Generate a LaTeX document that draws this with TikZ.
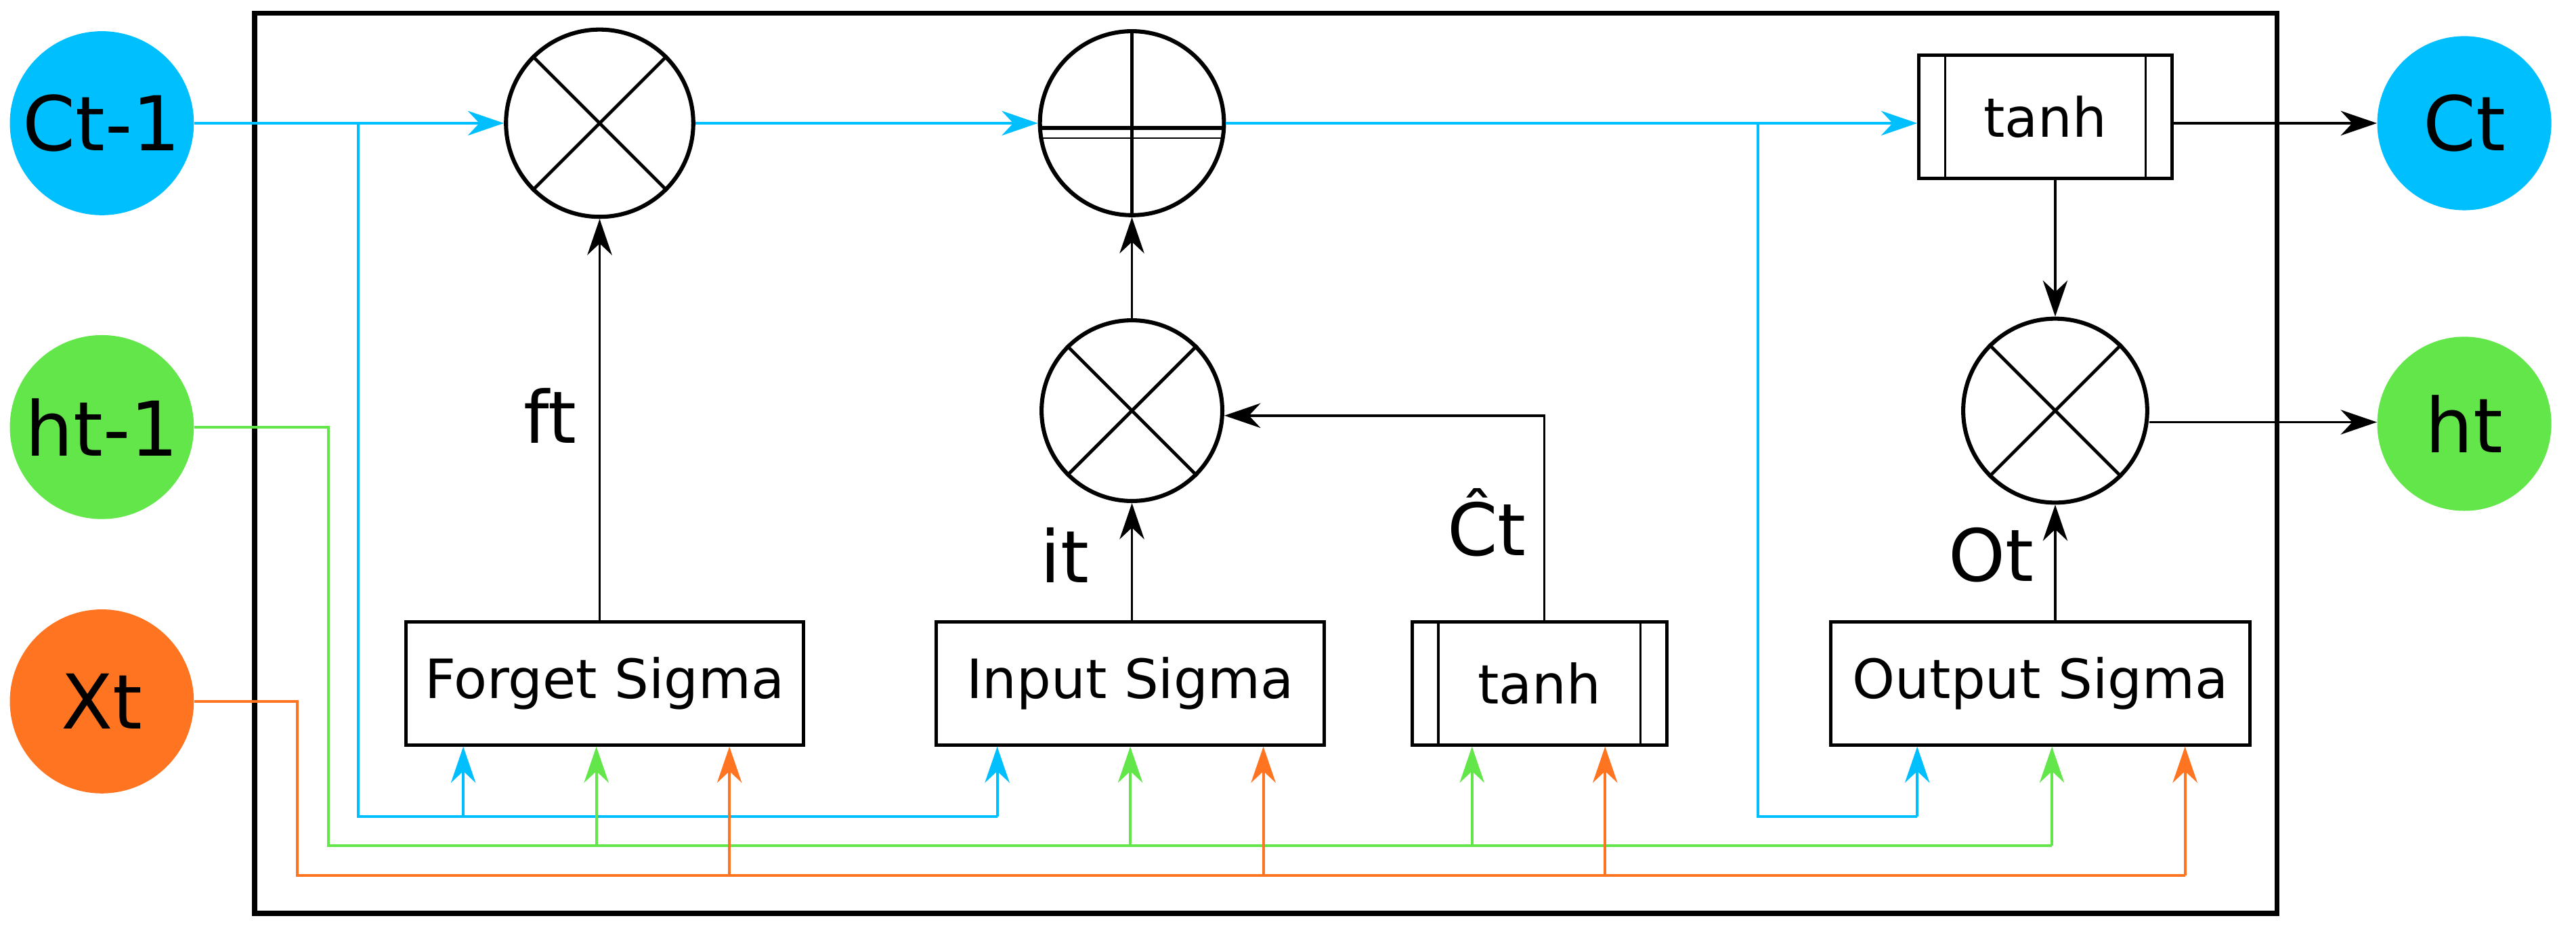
\documentclass[tikz,border=0pt]{standalone}
\usepackage{fontspec}
\setmainfont{DejaVu Sans}
\usetikzlibrary{arrows.meta,calc}
\definecolor{cy}{RGB}{0,191,255}
\definecolor{gr}{RGB}{99,230,74}
\definecolor{or}{RGB}{255,116,32}
\begin{document}
\begin{tikzpicture}[x=1pt,y=-1pt,
 inp/.style={circle,minimum size=112pt,inner sep=0pt,font=\fontsize{46}{50}\selectfont},
 op/.style={circle,draw,line width=2.5pt,minimum size=114pt,inner sep=0pt},
 box/.style={rectangle,draw,line width=2pt,inner sep=0pt,font=\fontsize{33}{36}\selectfont},
 lab/.style={font=\fontsize{44}{48}\selectfont},
 con/.style={line width=1.6pt,-{Stealth[length=22pt,width=15pt,inset=7pt]}},
 ln/.style={line width=1.6pt}]
\useasboundingbox (0,0) rectangle (1568,568);
\draw[line width=3pt] (155,8) rectangle (1386,556);
% inputs/outputs
\node[inp,fill=cy] (c0) at (62,75) {Ct-1};
\node[inp,fill=gr] (h0) at (62,260) {ht-1};
\node[inp,fill=or] (x0) at (62,427) {Xt};
\node[inp,fill=cy,minimum size=106pt] (c1) at (1500,75) {Ct};
\node[inp,fill=gr,minimum size=106pt] (h1) at (1500,258) {ht};
% operators
\node[op] (m1) at (365,75) {};
\node[op,minimum size=112pt] (p1) at (689,75) {};
\node[op,minimum size=110pt] (m2) at (689,250) {};
\node[op,minimum size=112pt] (m3) at (1251,250) {};
\foreach \n in {m1,m2,m3}{\draw[line width=2pt] (\n.45)--(\n.225) (\n.135)--(\n.-45);}
\draw[line width=2pt] (p1.north)--(p1.south);
\draw[line width=2.5pt] ($(p1.west)+(0,3)$)--($(p1.east)+(0,3)$);
\draw[line width=0.6pt] ($(p1.west)+(3,9)$)--($(p1.east)+(-1,9)$);
% boxes
\node[box,minimum width=154pt,minimum height=75pt] (t1) at (1245,71) {tanh};
\node[box,minimum width=242pt,minimum height=75pt] (fs) at (368,416) {Forget Sigma};
\node[box,minimum width=236pt,minimum height=75pt] (is) at (688,416) {Input Sigma};
\node[box,minimum width=155pt,minimum height=75pt] (t2) at (937,416) {tanh};
\node[box,minimum width=255pt,minimum height=75pt] (os) at (1242,416) {Output Sigma};
\foreach \n in {t1,t2}{
 \draw[line width=1.5pt] ($(\n.north west)+(17,0)$)--($(\n.south west)+(17,0)$);
 \draw[line width=1.5pt] ($(\n.north east)+(-17,0)$)--($(\n.south east)+(-17,0)$);}
% labels
\node[lab] at (335,253) {ft};
\node[lab] at (648,338) {it};
\node[lab] at (905,318) {\^{C}t};
\node[lab] at (1212,338) {Ot};
% cyan
\coordinate (cb1) at (218,75); \coordinate (cb2) at (1070,75);
\draw[con,cy] (c0) -- (m1);
\draw[con,cy] (m1) -- (p1);
\draw[con,cy] (p1) -- (t1.west|-p1);
\draw[ln,cy] (cb1) |- (607,497);
\draw[con,cy] (282,497) -- (fs.south-|282,0);
\draw[con,cy] (607,497) -- (is.south-|607,0);
\draw[ln,cy] (cb2) |- (1167,497);
\draw[con,cy] (1167,497) -- (os.south-|1167,0);
% green
\draw[ln,gr] (h0.east) -- (200,260) |- (1249,515);
\foreach \xx/\b in {363/fs,688/is,896/t2,1249/os}{\draw[con,gr] (\xx,515) -- (\b.south-|\xx,0);}
% orange
\draw[ln,or] (x0.east) -- (181,427) |- (1330,533);
\foreach \xx/\b in {444/fs,769/is,977/t2,1330/os}{\draw[con,or] (\xx,533) -- (\b.south-|\xx,0);}
% black
\draw[con] (fs.north-|m1) -- (m1);
\draw[con] (is.north-|m2) -- (m2);
\draw[con] (m2) -- (p1);
\draw[con] (t2.north-|940,0) |- (m2.east|-0,253);
\draw[con] (os.north-|m3) -- (m3);
\draw[con] (t1.south-|m3) -- (m3);
\draw[con] (t1.east|-0,75) -- (c1.west|-0,75);
\draw[con] (m3.east|-0,257) -- (h1.west|-0,257);
\end{tikzpicture}
\end{document}
